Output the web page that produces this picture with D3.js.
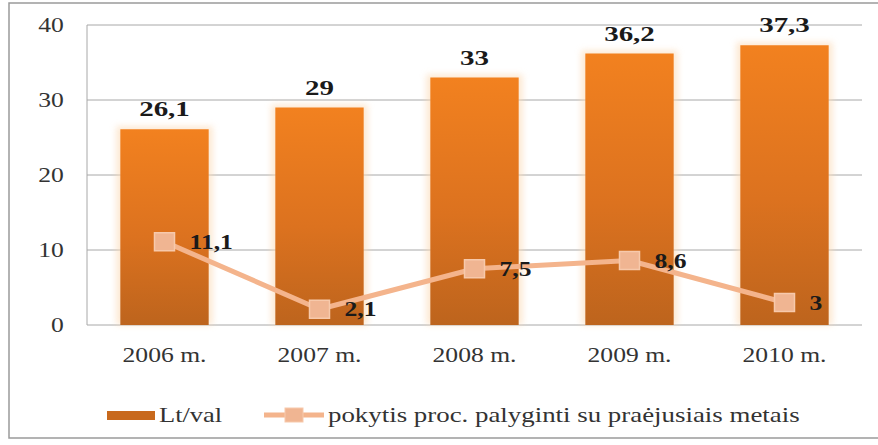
<!DOCTYPE html>
<html>
<head>
<meta charset="utf-8">
<script src="https://cdn.jsdelivr.net/npm/d3@7"></script>
<style>
  body { margin: 0; background: #fff; }
  svg text { font-family: "Liberation Serif", "DejaVu Serif", serif; }
</style>
</head>
<body>
<script>
// Data
var years = ["2006 m.", "2007 m.", "2008 m.", "2009 m.", "2010 m."];
var wages = [26.1, 29, 33, 36.2, 37.3];
var change = [11.1, 2.1, 7.5, 8.6, 3];
var yTicks = [0, 10, 20, 30, 40];
var barLabels = ["26,1", "29", "33", "36,2", "37,3"];
var lineLabels = ["11,1", "2,1", "7,5", "8,6", "3"];
var legendNames = ["Lt/val", "pokytis proc. palyginti su praėjusiais metais"];

var w = 878, h = 445;
var plot = {left: 87, right: 862, top: 25, bottom: 325};
var stretch = 1.22;   // the original's text looks horizontally widened
var fontFam = "'Liberation Serif', 'DejaVu Serif', serif";

var svg = d3.select("body").append("svg")
    .attr("width", w)
    .attr("height", h);

// draws a text stretched horizontally around its anchor point
function label(g, tx, ty, str, anchor, bold, sx) {
  return g.append("text")
    .attr("transform", "translate(" + tx + "," + ty + ") scale(" + (sx || stretch) + ",1)")
    .attr("text-anchor", anchor)
    .attr("font-size", 21)
    .attr("font-weight", bold ? "bold" : "normal")
    .attr("fill", bold ? "#1a1a1a" : "#333")
    .style("font-family", fontFam)
    .text(str);
}

// gradient for bars
var defs = svg.append("defs");
var grad = defs.append("linearGradient")
    .attr("id", "barGrad")
    .attr("x1", 0).attr("y1", 0).attr("x2", 0).attr("y2", 1);
grad.append("stop").attr("offset", "0%").attr("stop-color", "#f2811f");
grad.append("stop").attr("offset", "55%").attr("stop-color", "#dc721f");
grad.append("stop").attr("offset", "100%").attr("stop-color", "#bd641d");

var glow = defs.append("filter").attr("id", "glow")
    .attr("x", "-20%").attr("y", "-20%").attr("width", "140%").attr("height", "140%");
glow.append("feGaussianBlur").attr("stdDeviation", 3);

// outer frame
svg.append("rect")
    .attr("x", 9).attr("y", 3)
    .attr("width", 880).attr("height", 435)
    .attr("fill", "none")
    .attr("stroke", "#9a9a9a")
    .attr("stroke-width", 1.5);

var x = d3.scaleBand()
    .domain(years)
    .range([plot.left, plot.right])
    .paddingInner(0.43)
    .paddingOuter(0.215);

var y = d3.scaleLinear()
    .domain([0, 40])
    .range([plot.bottom, plot.top]);

// gridlines
svg.append("g")
    .selectAll("line")
    .data(yTicks)
    .enter()
    .append("line")
    .attr("x1", plot.left)
    .attr("x2", plot.right)
    .attr("y1", function(d) { return y(d); })
    .attr("y2", function(d) { return y(d); })
    .attr("stroke", "#a8a8a8")
    .attr("stroke-width", 1);

svg.append("line")
    .attr("x1", plot.left).attr("x2", plot.left)
    .attr("y1", plot.top).attr("y2", plot.bottom)
    .attr("stroke", "#a8a8a8");

// y axis labels
var yAxis = d3.axisLeft(y).tickValues(yTicks).tickSize(0).tickPadding(19);
var yg = svg.append("g")
    .attr("transform", "translate(" + plot.left + ",0)")
    .call(yAxis);
yg.select(".domain").remove();
yg.selectAll("text")
    .attr("font-size", 21)
    .attr("fill", "#333")
    .attr("transform", "scale(" + stretch + ",1)")
    .style("font-family", fontFam);

// x axis labels
var xAxis = d3.axisBottom(x).tickSize(0).tickPadding(27);
var xg = svg.append("g")
    .attr("transform", "translate(0," + plot.bottom + ")")
    .call(xAxis);
xg.select(".domain").remove();
xg.selectAll("text")
    .attr("font-size", 21)
    .attr("fill", "#333")
    .attr("dy", "0.5em")
    .attr("transform", "scale(" + stretch + ",1)")
    .style("font-family", fontFam);

// bars (soft glow behind)
svg.append("g")
    .selectAll("rect")
    .data(wages)
    .enter()
    .append("rect")
    .attr("x", function(d, i) { return x(years[i]) - 4; })
    .attr("y", function(d) { return y(d) - 3; })
    .attr("width", x.bandwidth() + 8)
    .attr("height", function(d) { return plot.bottom - y(d) + 3; })
    .attr("fill", "#fbd9b4")
    .attr("opacity", 0.6)
    .attr("filter", "url(#glow)");

svg.append("g")
    .selectAll("rect")
    .data(wages)
    .enter()
    .append("rect")
    .attr("x", function(d, i) { return x(years[i]); })
    .attr("y", function(d) { return y(d); })
    .attr("width", x.bandwidth())
    .attr("height", function(d) { return plot.bottom - y(d); })
    .attr("fill", "url(#barGrad)");

// bar labels
var bl = svg.append("g");
wages.forEach(function(d, i) {
  label(bl, x(years[i]) + x.bandwidth() / 2, y(d) - 13, barLabels[i], "middle", true, 1.38);
});

// line
var line = d3.line()
    .x(function(d, i) { return x(years[i]) + x.bandwidth() / 2; })
    .y(function(d) { return y(d); });

svg.append("path")
    .datum(change)
    .attr("d", line)
    .attr("fill", "none")
    .attr("stroke", "#f4b48c")
    .attr("stroke-width", 5)
    .attr("stroke-linejoin", "round");

svg.append("g")
    .selectAll("rect")
    .data(change)
    .enter()
    .append("rect")
    .attr("x", function(d, i) { return x(years[i]) + x.bandwidth() / 2 - 10; })
    .attr("y", function(d) { return y(d) - 9; })
    .attr("width", 20)
    .attr("height", 18)
    .attr("fill", "#f0b592")
    .attr("stroke", "#f7c9ab")
    .attr("stroke-width", 1.5);

var ll = svg.append("g");
change.forEach(function(d, i) {
  label(ll, x(years[i]) + x.bandwidth() / 2 + 25, y(d) + 7, lineLabels[i], "start", true);
});

// legend
var lg = svg.append("g");
lg.append("rect")
    .attr("x", 107).attr("y", 411)
    .attr("width", 48).attr("height", 9)
    .attr("fill", "#c8691d");
label(lg, 159, 422, legendNames[0], "start", false, 1.26);

lg.append("line")
    .attr("x1", 264).attr("x2", 324)
    .attr("y1", 415).attr("y2", 415)
    .attr("stroke", "#f4b48c")
    .attr("stroke-width", 5);
lg.append("rect")
    .attr("x", 285).attr("y", 408)
    .attr("width", 18).attr("height", 14)
    .attr("fill", "#f0b592")
    .attr("stroke", "#f7c9ab");
label(lg, 328, 422, legendNames[1], "start", false, 1.28);
</script>
</body>
</html>
